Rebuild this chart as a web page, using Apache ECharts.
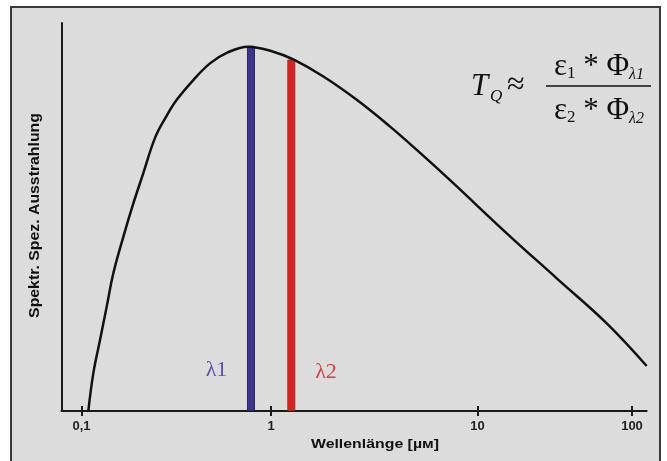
<!DOCTYPE html>
<html><head><meta charset="utf-8">
<script src="https://cdn.jsdelivr.net/npm/echarts@6/dist/echarts.min.js"></script>
<style>html,body{margin:0;padding:0;background:#fff}#c{width:667px;height:461px}</style>
</head><body><div id="c"></div>
<script>
// ---- data ----
const tickValues = [0.1, 1, 10, 100];
const tickLabels = ['0,1', '1', '10', '100'];
const curveWavelength = [0.1086, 0.1154, 0.1252, 0.1358, 0.1472, 0.1662, 0.1877, 0.2119, 0.2443, 0.2792, 0.318, 0.389, 0.4764, 0.584, 0.756, 1.026, 1.282, 1.792, 2.6, 3.771, 5.077, 7.36, 15.45, 32.55, 68.6, 124.5];
const curveRadiance   = [0, 9.7, 18.3, 26.9, 35.5, 44.9, 53.5, 61.3, 70.4, 75.8, 80.2, 85.3, 89.6, 92.3, 93.9, 92.6, 90.6, 86.2, 80.2, 73.3, 67.3, 59.5, 45.8, 34.2, 22.6, 11.6];
const bandNames = ['λ1', 'λ2'];
const bandWavelength = [0.784, 1.254];
const bandRadiance = [94.1, 90.6];
const xRange = [0.0784, 124.5];
const yRange = [0, 100];
const xTitle = 'Wellenlänge [µм]';
const yTitle = 'Spektr. Spez. Ausstrahlung';

// the reference's wavelength axis is logarithmic per decade, but the decades are not equally wide
const decadeAnchors = [0, 1, 2.09, 2.905]; // axis units at 0.1, 1, 10, 100
function warp(l) {
  const d = Math.log10(l) + 1;
  const i = Math.min(2, Math.max(0, Math.floor(d)));
  return decadeAnchors[i] + (d - i) * (decadeAnchors[i + 1] - decadeAnchors[i]);
}
const tickPos = tickValues.map(warp);
function tickLabel(v) {
  let best = 0;
  tickPos.forEach((p, i) => { if (Math.abs(p - v) < Math.abs(tickPos[best] - v)) best = i; });
  return tickLabels[best];
}

const chart = echarts.init(document.getElementById('c'), null, {renderer: 'canvas'});
const sans = "'Liberation Sans', Arial, sans-serif";
const serif = "'Liberation Serif', 'Times New Roman', serif";
const bandColors = ['#3d3590', '#e11f1f'];
const bandBorders = ['#2b2850', '#8c3a30'];
const labelColors = ['#5a50ac', '#e03a3a'];

const baseX = {
  type: 'value', min: warp(xRange[0]), max: warp(xRange[1]),
  splitLine: {show: false}
};
const fracRich = {
  a: {fontFamily: serif, fontSize: 31, lineHeight: 31},
  s: {fontFamily: serif, fontSize: 17, lineHeight: 17, verticalAlign: 'bottom'},
  t: {fontFamily: serif, fontStyle: 'italic', fontSize: 16, lineHeight: 16, verticalAlign: 'bottom'}
};

chart.setOption({
  backgroundColor: '#ffffff',
  animation: false,
  grid: {left: 61.5, right: 20.3, top: 23, bottom: 50},
  xAxis: [
    Object.assign({}, baseX, {
      axisLine: {show: true, lineStyle: {color: '#1a1a1a', width: 2}},
      axisTick: {show: true, customValues: tickPos, length: 5, lineStyle: {color: '#1a1a1a', width: 2}},
      axisLabel: {customValues: tickPos, formatter: tickLabel, color: '#222', fontFamily: sans, fontWeight: 'bold', fontSize: 13, margin: 9}
    }),
    Object.assign({}, baseX, {
      position: 'bottom',
      axisLine: {show: false},
      axisTick: {show: true, inside: true, customValues: tickPos, length: 5, lineStyle: {color: '#1a1a1a', width: 2}},
      axisLabel: {show: false}
    })
  ],
  yAxis: {
    type: 'value', min: yRange[0], max: yRange[1],
    axisLine: {show: true, onZero: false, lineStyle: {color: '#1a1a1a', width: 2}},
    axisTick: {show: false}, axisLabel: {show: false}, splitLine: {show: false}
  },
  graphic: [
    {type: 'rect', z: -10, shape: {x: 11, y: 7, width: 649, height: 470},
     style: {fill: '#dcdcdc', stroke: '#3a3a3a', lineWidth: 2}},
    {type: 'text', x: 375, y: 444, scaleX: 1.22, style: {text: xTitle, font: "bold 13px 'Liberation Sans', Arial, sans-serif", fill: '#111', align: 'center', verticalAlign: 'middle'}},
    {type: 'text', x: 35, y: 215.5, rotation: Math.PI / 2, scaleX: 1.13, style: {text: yTitle, font: "bold 14px 'Liberation Sans', Arial, sans-serif", fill: '#111', align: 'center', verticalAlign: 'middle'}},
    {type: 'text', x: 216.5, y: 370, style: {text: bandNames[0], font: "22px 'Liberation Serif', serif", fill: labelColors[0], align: 'center', verticalAlign: 'middle'}},
    {type: 'text', x: 326, y: 372, style: {text: bandNames[1], font: "22px 'Liberation Serif', serif", fill: labelColors[1], align: 'center', verticalAlign: 'middle'}},
    {type: 'text', x: 471, y: 87, style: {text: 'T', font: "italic 31px 'Liberation Serif', serif", fill: '#111', align: 'left', verticalAlign: 'middle'}},
    {type: 'text', x: 490, y: 97, style: {text: 'Q', font: "italic 17px 'Liberation Serif', serif", fill: '#111', align: 'left', verticalAlign: 'middle'}},
    {type: 'text', x: 507, y: 86, style: {text: '≈', font: "32px 'Liberation Serif', serif", fill: '#111', align: 'left', verticalAlign: 'middle'}},
    {type: 'line', shape: {x1: 546, y1: 86, x2: 651, y2: 86}, style: {stroke: '#111', lineWidth: 1.5}},
    {type: 'text', x: 599, y: 67, style: {
      text: '{a|ε}{s|1}{a| * Φ}{t|λ1}', align: 'center', verticalAlign: 'middle', fill: '#111', rich: fracRich
    }},
    {type: 'text', x: 599, y: 111, style: {
      text: '{a|ε}{s|2}{a| * Φ}{t|λ2}', align: 'center', verticalAlign: 'middle', fill: '#111', rich: fracRich
    }}
  ],
  series: [
    {
      type: 'bar', xAxisIndex: 0, barWidth: 8, z: 2,
      data: bandWavelength.map((w, i) => ({
        value: [warp(w), bandRadiance[i]],
        itemStyle: {color: bandColors[i], borderColor: bandBorders[i], borderWidth: 1}
      }))
    },
    {
      type: 'line', xAxisIndex: 0, smooth: 0.4, symbol: 'none', z: 3,
      lineStyle: {color: '#111', width: 2.5},
      data: curveWavelength.map((w, i) => [warp(w), curveRadiance[i]])
    }
  ]
});
</script></body></html>
